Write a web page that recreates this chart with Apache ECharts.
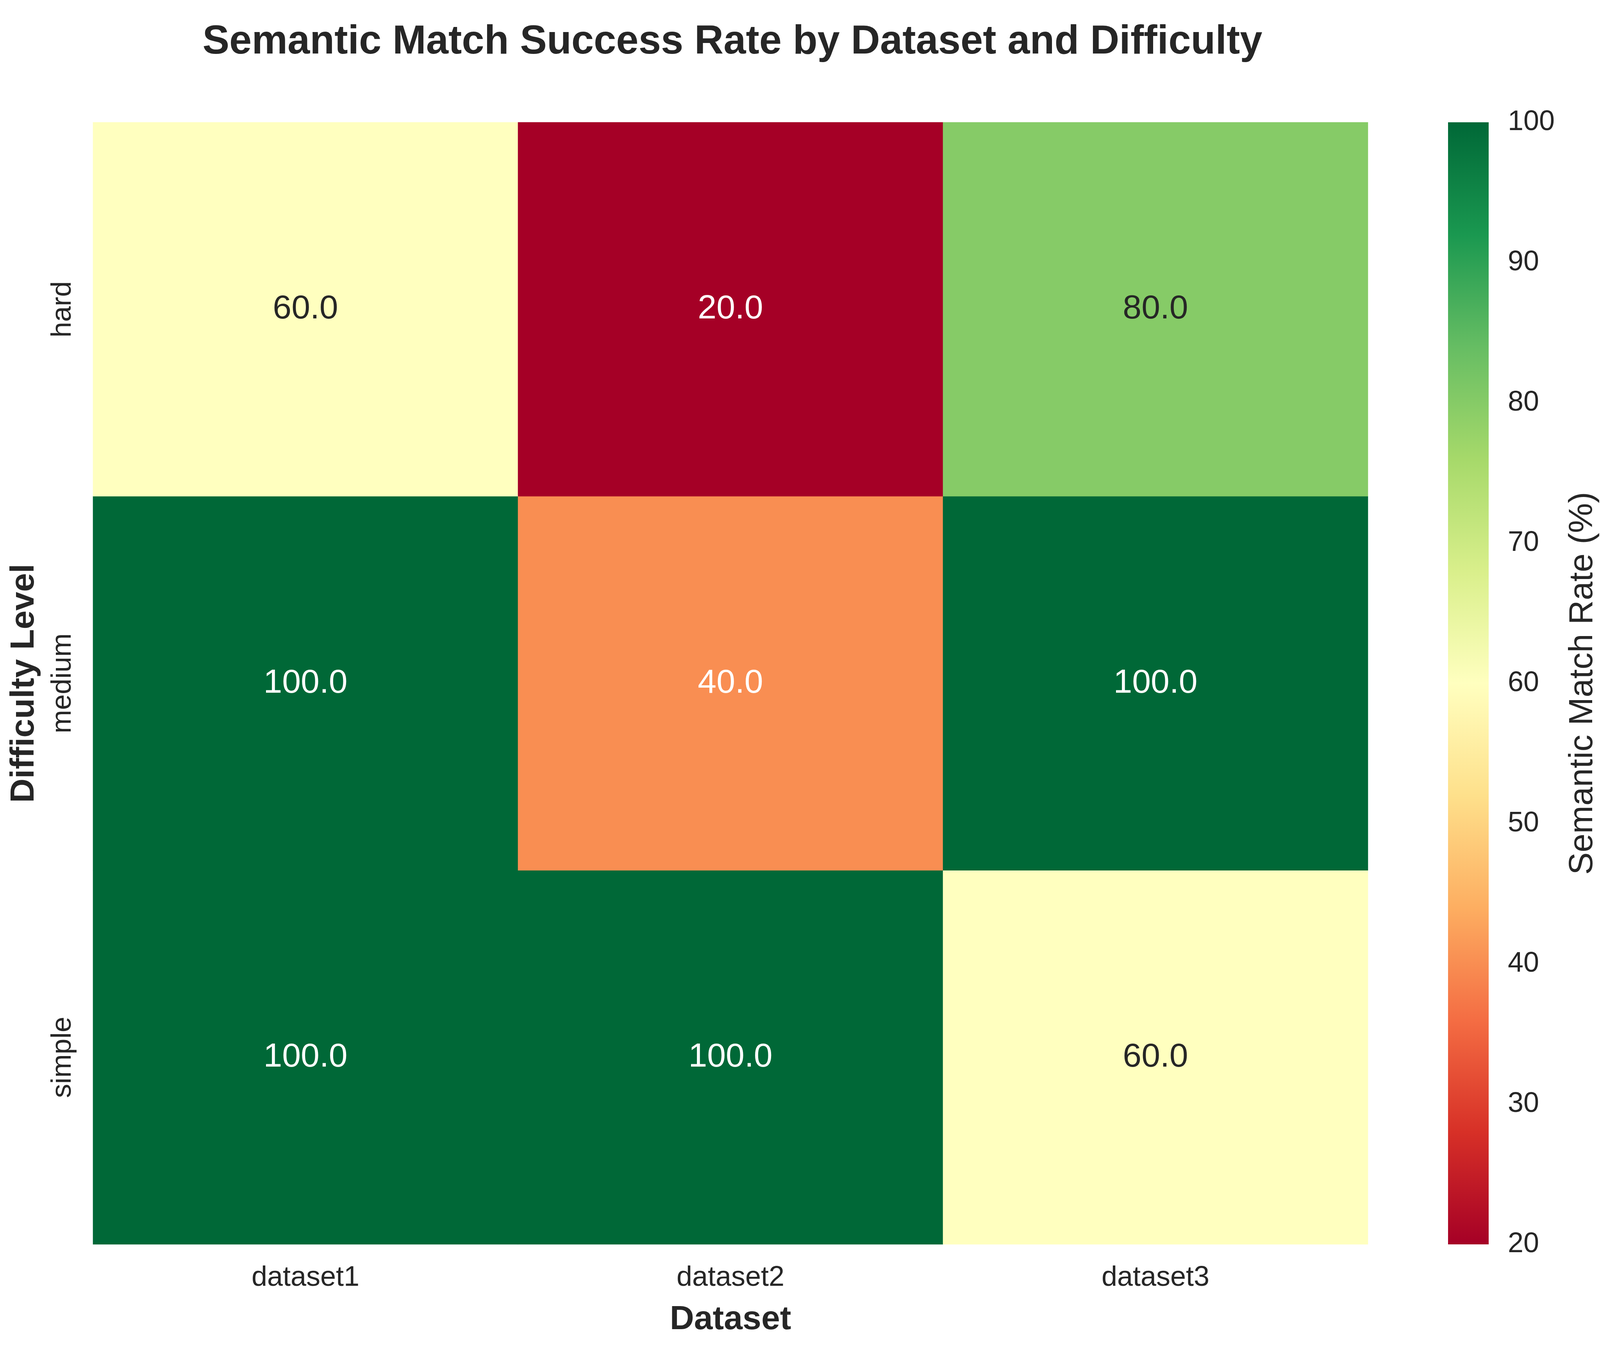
<!DOCTYPE html>
<html>
<head>
<meta charset="utf-8">
<script src="https://cdn.jsdelivr.net/npm/echarts@6/dist/echarts.min.js"></script>
<style>
  html,body{margin:0;padding:0;background:#fff;overflow:hidden;}
  #chart{width:100vw;height:100vh;}
</style>
</head>
<body>
<div id="chart"></div>
<script>
// columns / rows of the heatmap
const datasets = ['dataset1', 'dataset2', 'dataset3'];
const levels = ['simple', 'medium', 'hard'];   // bottom -> top
// semantic match rate (%) per level, in dataset order
const simpleRate = [100, 100, 60];
const mediumRate = [100, 40, 100];
const hardRate = [60, 20, 80];
// colorbar range and ticks
const rateMin = 20;
const rateMax = 100;
const rateStep = 10;

// RdYlGn, low -> high
const rdylgn = ['#a50026', '#d73027', '#f46d43', '#fdae61', '#fee08b', '#ffffbf',
    '#d9ef8b', '#a6d96a', '#66bd63', '#1a9850', '#006837'];

const txt = '#262626';
const font = 'Liberation Sans, Arial, sans-serif';

// layout was measured on a 5543x3504 figure, scale to whatever window we get
const dom = document.getElementById('chart');
const sx = dom.clientWidth / 5543;
const sy = dom.clientHeight / 3504;
const sf = Math.sqrt(sx * sy);
const X = v => Math.round(v * sx);
const Y = v => Math.round(v * sy);
const F = v => Math.round(v * sf);

const cells = [];
[simpleRate, mediumRate, hardRate].forEach((row, yi) => {
    row.forEach((v, xi) => cells.push([xi, yi, v]));
});

// light cells get dark text, dark ones white (like seaborn annot)
function labelColor(v) {
    const t = (v - rateMin) / (rateMax - rateMin);
    return (t > 0.35 && t < 0.85) ? txt : '#ffffff';
}

const myChart = echarts.init(dom, null, {renderer: 'canvas'});

myChart.setOption({
    backgroundColor: '#ffffff',
    animation: false,
    title: {
        text: 'Semantic Match Success Rate by Dataset and Difficulty',
        left: X(2530),
        top: Y(52),
        textAlign: 'center',
        textStyle: {fontFamily: font, fontSize: F(120), fontWeight: 'bold', color: txt}
    },
    grid: [
        {left: X(322), top: Y(313), width: X(4739) - X(322), height: Y(2872)},
        // colorbar
        {left: X(5016), top: Y(313), width: X(5159) - X(5016), height: Y(2872)}
    ],
    xAxis: [{
        gridIndex: 0,
        type: 'category',
        data: datasets,
        name: 'Dataset',
        nameLocation: 'middle',
        nameGap: Y(150),
        nameTextStyle: {fontFamily: font, fontSize: F(100), fontWeight: 'bold', color: txt},
        axisLine: {show: false},
        axisTick: {show: false},
        splitLine: {show: false},
        axisLabel: {fontFamily: font, fontSize: F(84), color: txt, margin: Y(50)}
    }, {
        gridIndex: 1,
        type: 'category',
        data: ['cb'],
        show: false
    }],
    yAxis: [{
        gridIndex: 0,
        type: 'category',
        data: levels,
        name: 'Difficulty Level',
        nameLocation: 'middle',
        nameRotate: 90,
        nameGap: X(180),
        nameTextStyle: {fontFamily: font, fontSize: F(100), fontWeight: 'bold', color: txt},
        axisLine: {show: false},
        axisTick: {show: false},
        splitLine: {show: false},
        axisLabel: {fontFamily: font, fontSize: F(84), color: txt, rotate: 90, margin: X(56)}
    }, {
        gridIndex: 1,
        type: 'value',
        position: 'right',
        min: rateMin,
        max: rateMax,
        interval: rateStep,
        name: 'Semantic Match Rate (%)',
        nameLocation: 'middle',
        nameRotate: 90,
        nameGap: X(268),
        nameTextStyle: {fontFamily: font, fontSize: F(100), color: txt},
        axisLine: {show: false},
        axisTick: {show: false},
        splitLine: {show: false},
        axisLabel: {fontFamily: font, fontSize: F(84), color: txt, margin: X(66)}
    }],
    visualMap: {
        type: 'continuous',
        show: false,
        seriesIndex: 0,
        min: rateMin,
        max: rateMax,
        inRange: {color: rdylgn}
    },
    series: [{
        type: 'heatmap',
        xAxisIndex: 0,
        yAxisIndex: 0,
        data: cells.map(c => ({value: c, label: {color: labelColor(c[2])}})),
        label: {
            show: true,
            fontFamily: font,
            fontSize: F(100),
            formatter: p => p.value[2].toFixed(1)
        },
        emphasis: {disabled: true},
        itemStyle: {borderWidth: 0}
    }, {
        // invisible base so the colorbar starts at rateMin
        type: 'bar',
        xAxisIndex: 1,
        yAxisIndex: 1,
        stack: 'cb',
        barWidth: '100%',
        data: [rateMin],
        itemStyle: {color: 'rgba(0,0,0,0)'},
        silent: true
    }, {
        type: 'bar',
        xAxisIndex: 1,
        yAxisIndex: 1,
        stack: 'cb',
        barWidth: '100%',
        data: [rateMax - rateMin],
        silent: true,
        itemStyle: {
            color: new echarts.graphic.LinearGradient(0, 1, 0, 0,
                rdylgn.map((c, i) => ({offset: i / (rdylgn.length - 1), color: c})))
        }
    }]
});

window.addEventListener('resize', () => myChart.resize());
</script>
</body>
</html>
